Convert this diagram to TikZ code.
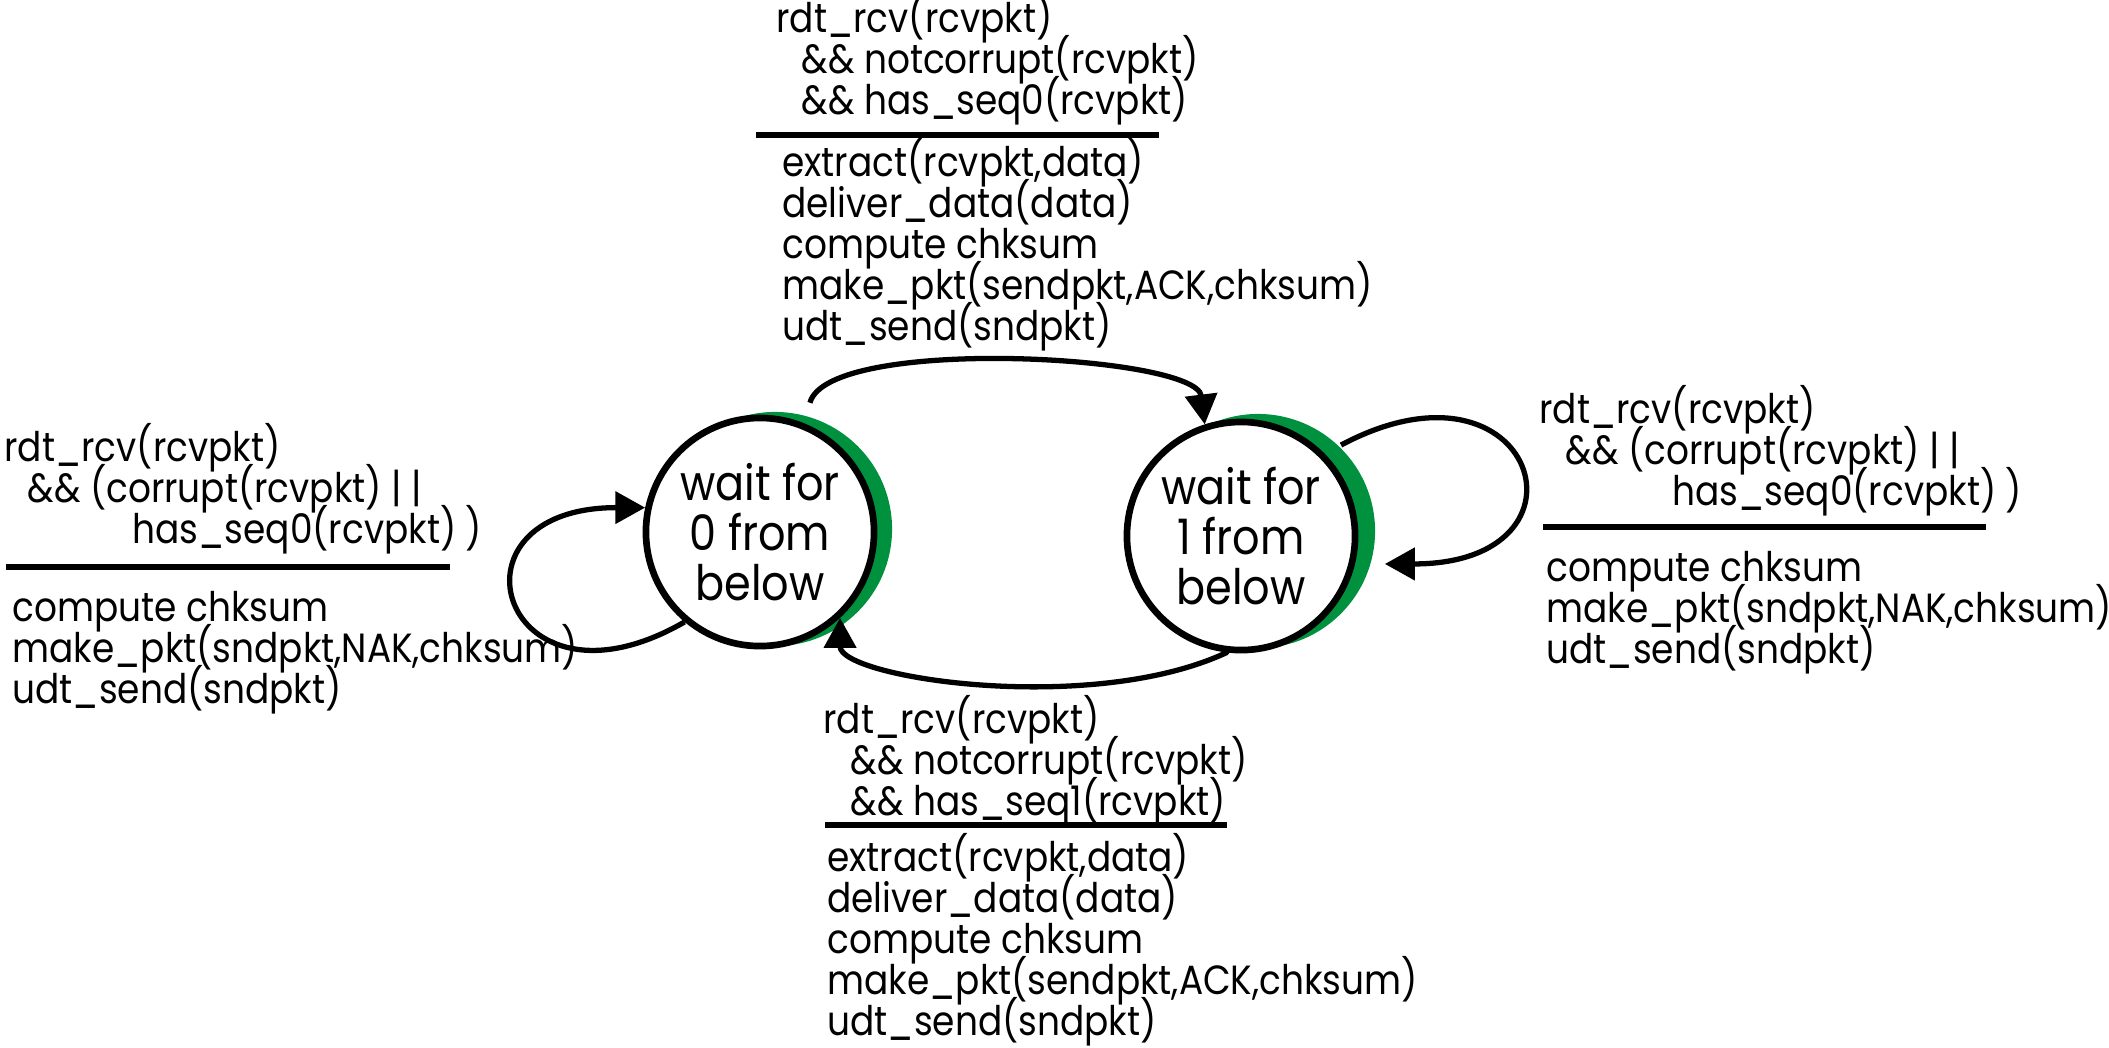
\documentclass[tikz,border=0pt]{standalone}
\usepackage{fontspec}
\setmainfont{Poppins}[FakeStretch=0.88]
\usetikzlibrary{arrows.meta}
\definecolor{cgreen}{HTML}{00913F}
\newcommand\fixedlines{\lineskiplimit=-\maxdimen\lineskip=0pt\relax}
\tikzset{
  every picture/.style={line width=1.4pt},
  state/.style={circle, draw, fill=white, line width=1.9pt, minimum size=2.28cm, inner sep=0pt, align=center, font=\fontsize{13.9}{14.1}\selectfont\fixedlines},
  rim/.style={circle, fill=cgreen, minimum size=2.34cm, inner sep=0pt},
  guard/.style={anchor=base west, align=left, inner sep=0pt, font=\fontsize{11.6}{11.65}\selectfont\fixedlines},
  action/.style={guard},
  sepline/.style={line width=1.9pt},
  arrow/.style={-{Triangle[length=8.5pt,width=9pt]}, line width=1.5pt},
}

\begin{document}
\begin{tikzpicture}[x=0.01cm, y=-0.01cm]
  \useasboundingbox (0,0) rectangle (2109,1047);
  % states with green rim
  \node[rim] (s0) at (775,529) {};
  \node[rim] (s1) at (1258,531) {};
  \node[state] (c0) at (760,532) {wait for\\0 from\\below};
  \node[state] (c1) at (1241,536) {wait for\\1 from\\below};

  % top: 0 -> 1  (base = last line)
  \node[guard] (gA) at (774,114) {rdt\_rcv(rcvpkt)\\\hspace{0.25cm}\&\& notcorrupt(rcvpkt)\\\hspace{0.25cm}\&\& has\_seq0(rcvpkt)};
  \draw[sepline] (756,135) -- (1159,135);
  \node[action] (aA) at (780,340) {extract(rcvpkt,data)\\deliver\_data(data)\\compute chksum\\make\_pkt(sendpkt,ACK,chksum)\\udt\_send(sndpkt)};

  % left: 0 -> 0
  \node[guard] (gB) at (2,543) {rdt\_rcv(rcvpkt)\\\hspace{0.23cm}\&\& (corrupt(rcvpkt) | |\\\hspace{1.28cm}has\_seq0(rcvpkt) )};
  \draw[sepline] (6,567) -- (450,567);
  \node[action] (aB) at (10,703) {compute chksum\\make\_pkt(sndpkt,NAK,chksum)\\udt\_send(sndpkt)};

  % right: 1 -> 1
  \node[guard] (gC) at (1537,505) {rdt\_rcv(rcvpkt)\\\hspace{0.26cm}\&\& (corrupt(rcvpkt) | |\\\hspace{1.33cm}has\_seq0(rcvpkt) )};
  \draw[sepline] (1543,527) -- (1986,527);
  \node[action] (aC) at (1544,663) {compute chksum\\make\_pkt(sndpkt,NAK,chksum)\\udt\_send(sndpkt)};

  % bottom: 1 -> 0
  \node[guard] (gD) at (821,815) {rdt\_rcv(rcvpkt)\\\hspace{0.27cm}\&\& notcorrupt(rcvpkt)\\\hspace{0.27cm}\&\& has\_seq1(rcvpkt)};
  \draw[sepline] (825,825) -- (1227,825);
  \node[action] (aD) at (825,1035) {extract(rcvpkt,data)\\deliver\_data(data)\\compute chksum\\make\_pkt(sendpkt,ACK,chksum)\\udt\_send(sndpkt)};

  % transitions
  \draw[arrow] ([yshift=3.4pt]s0.73) to[out=75, in=97, distance=0.7cm] (c1.108);
  \draw[arrow, line cap=round] (c1.263) to[out=205, in=270, out distance=1.5cm, in distance=0.6cm] (c0.313);
  \draw[arrow] (c0.230) to[out=210, in=180, distance=2.1cm] (c0.168);
  \draw[arrow] (s1.46) to[out=28, in=0, distance=2.2cm] ([xshift=3.4pt]s1.-16);
\end{tikzpicture}
\end{document}
